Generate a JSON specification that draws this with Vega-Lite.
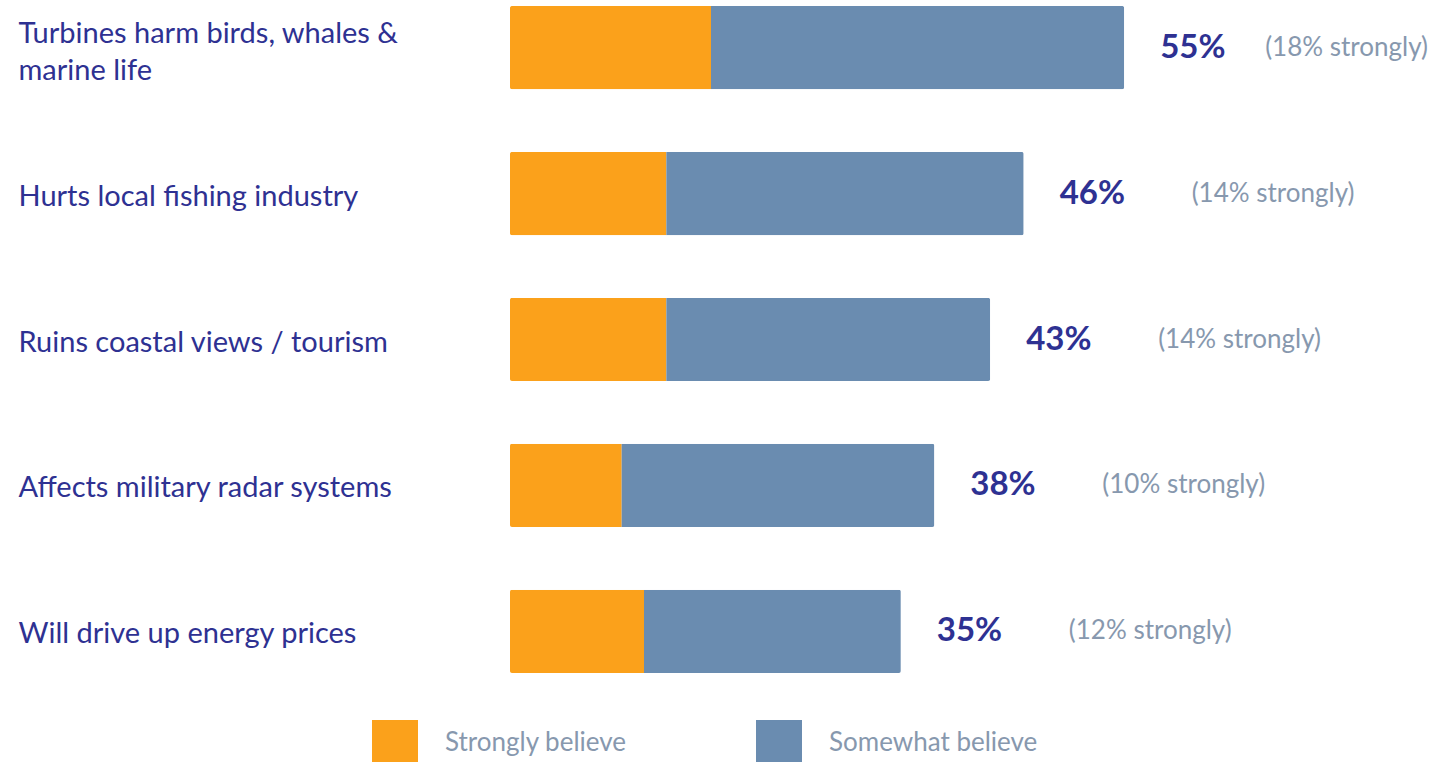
{
  "$schema": "https://vega.github.io/schema/vega-lite/v6.json",
  "autosize": {"type": "none"},
  "padding": {"left": 510, "top": 0, "right": 0, "bottom": 83},
  "width": 919,
  "height": 679,
  "background": "white",
  "config": {"view": {"stroke": null}, "font": "Lato"},
  "datasets": {
    "segments": [
      {"item": "Turbines harm birds, whales &|marine life", "type": "Strongly believe", "value": 18},
      {"item": "Turbines harm birds, whales &|marine life", "type": "Somewhat believe", "value": 37},
      {"item": "Hurts local fishing industry", "type": "Strongly believe", "value": 14},
      {"item": "Hurts local fishing industry", "type": "Somewhat believe", "value": 32},
      {"item": "Ruins coastal views / tourism", "type": "Strongly believe", "value": 14},
      {"item": "Ruins coastal views / tourism", "type": "Somewhat believe", "value": 29},
      {"item": "Affects military radar systems", "type": "Strongly believe", "value": 10},
      {"item": "Affects military radar systems", "type": "Somewhat believe", "value": 28},
      {"item": "Will drive up energy prices", "type": "Strongly believe", "value": 12},
      {"item": "Will drive up energy prices", "type": "Somewhat believe", "value": 23}
    ],
    "totals": [
      {"item": "Turbines harm birds, whales &|marine life", "total": 55, "label": "55%", "strongLabel": "(18% strongly)"},
      {"item": "Hurts local fishing industry", "total": 46, "label": "46%", "strongLabel": "(14% strongly)"},
      {"item": "Ruins coastal views / tourism", "total": 43, "label": "43%", "strongLabel": "(14% strongly)"},
      {"item": "Affects military radar systems", "total": 38, "label": "38%", "strongLabel": "(10% strongly)"},
      {"item": "Will drive up energy prices", "total": 35, "label": "35%", "strongLabel": "(12% strongly)"}
    ]
  },
  "encoding": {
    "y": {
      "field": "item", "type": "nominal", "sort": null,
      "scale": {"paddingInner": 0.43, "paddingOuter": 0.041},
      "axis": {
        "title": null, "domain": false, "ticks": false, "orient": "left",
        "labelAlign": "left", "labelPadding": 492, "labelFontSize": 29,
        "labelColor": "#2E3192", "labelLimit": 0, "labelLineHeight": 37,
        "labelOffset": {"condition": {"test": "indexof(datum.value, '|') >= 0", "value": -14}, "value": 3},
        "labelExpr": "split(datum.label, '|')"
      }
    }
  },
  "layer": [
    {
      "data": {"name": "segments"},
      "mark": {"type": "bar", "cornerRadius": 2},
      "encoding": {
        "x": {"field": "value", "type": "quantitative", "stack": "zero",
              "scale": {"domain": [0, 82.3], "nice": false}, "axis": null},
        "color": {
          "field": "type", "type": "nominal",
          "scale": {"domain": ["Strongly believe", "Somewhat believe"], "range": ["#FBA11B", "#6A8CB0"]},
          "legend": {
            "title": null, "orient": "none", "direction": "horizontal",
            "legendX": -138, "legendY": 720, "padding": 0,
            "symbolType": "square", "symbolSize": 2116, "symbolStrokeWidth": 0, "symbolOpacity": 1,
            "labelFontSize": 26, "labelColor": "#8798AE", "labelOffset": 27,
            "columnPadding": 129, "labelLimit": 0
          }
        },
        "order": {"field": "type", "type": "nominal", "sort": "descending"}
      }
    },
    {
      "data": {"name": "totals"},
      "mark": {"type": "text", "align": "left", "baseline": "middle", "dx": 36, "fontSize": 33, "fontWeight": "bold", "color": "#2E3192"},
      "encoding": {
        "x": {"field": "total", "type": "quantitative"},
        "text": {"field": "label", "type": "nominal"}
      }
    },
    {
      "data": {"name": "totals"},
      "mark": {"type": "text", "align": "left", "baseline": "middle", "dx": {"expr": "datum.total > 50 ? 141 : 168"}, "fontSize": 26, "color": "#8798AE"},
      "encoding": {
        "x": {"field": "total", "type": "quantitative"},
        "text": {"field": "strongLabel", "type": "nominal"}
      }
    }
  ]
}
